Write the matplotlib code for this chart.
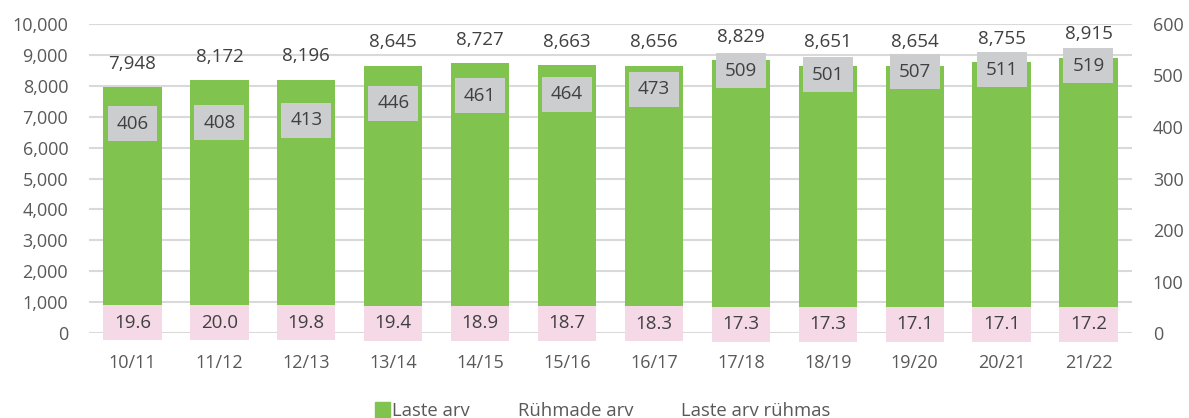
import matplotlib.pyplot as plt
from matplotlib.patches import Patch
from matplotlib.lines import Line2D
import numpy as np

plt.rcParams['font.family'] = ['Open Sans', 'DejaVu Sans']

# data
seasons = ['10/11', '11/12', '12/13', '13/14', '14/15', '15/16',
           '16/17', '17/18', '18/19', '19/20', '20/21', '21/22']
laste_arv = [7948, 8172, 8196, 8645, 8727, 8663, 8656, 8829, 8651, 8654, 8755, 8915]
ruhmade_arv = [406, 408, 413, 446, 461, 464, 473, 509, 501, 507, 511, 519]
laste_arv_ruhmas = [19.6, 20.0, 19.8, 19.4, 18.9, 18.7, 18.3, 17.3, 17.3, 17.1, 17.1, 17.2]

green = '#80c34f'
grey_box = '#cbcdce'
pink_box = '#f6d9e6'
txt = '#404040'
tick_col = '#595959'

fig = plt.figure(figsize=(11.89, 4.18), dpi=100)
ax = fig.add_axes([0.0749, 0.2033, 0.8771, 0.7393])
ax2 = ax.twinx()

x = np.arange(len(seasons))

# main bars on left axis
ax.bar(x, laste_arv, width=0.67, color=green, zorder=2)
ax.set_ylim(0, 10000)
ax.set_xlim(-0.5, len(seasons) - 0.5)
ax.set_yticks(np.arange(0, 10001, 1000))
ax.yaxis.set_major_formatter(plt.FuncFormatter(lambda v, p: f'{int(v):,}'))
ax.yaxis.grid(True, color='#d9d9d9', lw=1.5)
ax.set_axisbelow(True)
ax.set_xticks(x)
ax.set_xticklabels(seasons)

ax2.set_ylim(0, 600)
ax2.set_yticks(np.arange(0, 601, 100))

for a in (ax, ax2):
    for s in a.spines.values():
        s.set_visible(False)
ax.tick_params(axis='y', length=0, pad=15, labelsize=13, labelcolor=tick_col)
ax.tick_params(axis='x', length=0, pad=15, labelsize=13, labelcolor=tick_col)
ax2.tick_params(axis='y', length=0, pad=15, labelsize=13, labelcolor=tick_col)

# label boxes, centred on their value on the right axis
box_h = 68
ax2.bar(x, box_h, bottom=np.array(ruhmade_arv) - box_h / 2, width=0.575,
        color=grey_box, zorder=3, clip_on=False)
ax2.bar(x, box_h, bottom=np.array(laste_arv_ruhmas) - box_h / 2, width=0.67,
        color=pink_box, zorder=3, clip_on=False)

for i in x:
    ax2.text(i, ruhmade_arv[i], str(ruhmade_arv[i]), ha='center', va='center',
             fontsize=13.5, color=txt, zorder=4)
    ax2.text(i, laste_arv_ruhmas[i], f'{laste_arv_ruhmas[i]:.1f}', ha='center',
             va='center', fontsize=13.5, color=txt, zorder=4, clip_on=False)
    ax2.annotate(f'{laste_arv[i]:,}', xy=(i, laste_arv[i]), xycoords=ax.transData,
                 xytext=(0, 17), textcoords='offset points', ha='center',
                 va='center', fontsize=13.5, color=txt, zorder=5)

handles = [Patch(color=green),
           Line2D([], [], lw=0),
           Line2D([], [], lw=0)]
fig.legend(handles, ['Laste arv', 'Rühmade arv', 'Laste arv rühmas'],
           loc='center', bbox_to_anchor=(0.507, 0.017), ncol=3, frameon=False,
           fontsize=13.3, labelcolor=tick_col, handlelength=0.8,
           handleheight=0.8, handletextpad=0.1, columnspacing=1.7)

fig.savefig('out.png', dpi=100)
